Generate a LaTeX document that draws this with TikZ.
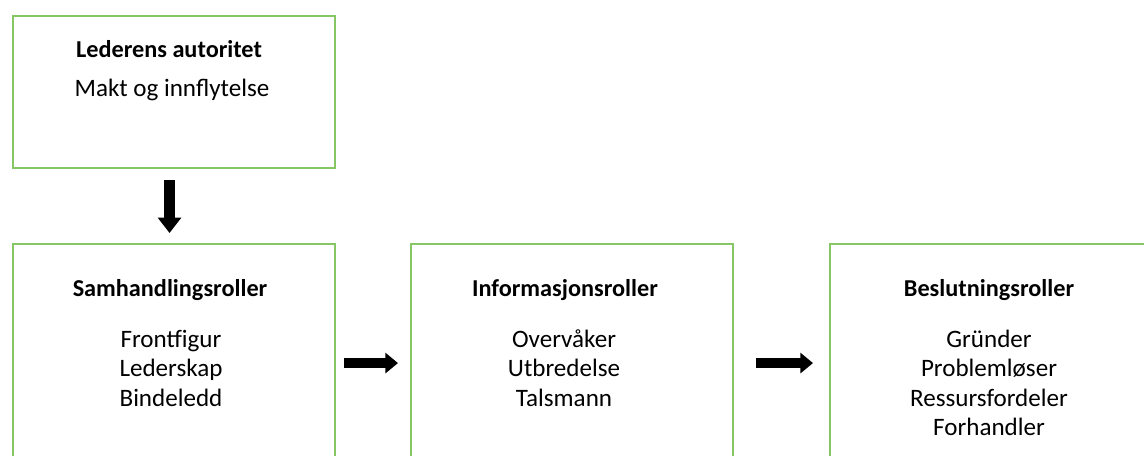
\documentclass[tikz,border=0pt]{standalone}
\usepackage{fontspec}
\setmainfont{Carlito}
\usetikzlibrary{arrows.meta,positioning}
\definecolor{boxgreen}{RGB}{134,198,100}

\begin{document}
\begin{tikzpicture}[x=0.75pt,y=-0.75pt,
  rolebox/.style={draw=boxgreen,line width=1.6pt,anchor=north west,minimum width=241.5pt,inner sep=0pt},
  roletitle/.style={font=\fontsize{18.2}{21.75}\selectfont\bfseries,anchor=base},
  roleitem/.style={font=\fontsize{18.8}{21.75}\selectfont,anchor=base},
  bigarrow/.style={line width=7.8pt,-{Triangle[length=9.5pt,width=15pt]}}]

\useasboundingbox (0,0) rectangle (1144,456);
\clip (0,0) rectangle (1144,456);

% ===== top box =====
\node[rolebox,minimum height=114pt] (autoritet) at (12,15) {};
\node[roletitle] (autoritetT) at (169,58) {Lederens autoritet};
\node[roleitem] (autoritetS) at (172,97) {Makt og innflytelse};

% ===== role boxes =====
\node[rolebox,minimum height=178.5pt] (samh) at (12,243) {};
\node[rolebox,minimum height=178.5pt] (info) at (410,243) {};
\node[rolebox,minimum height=178.5pt] (beslut) at (829,243) {};

\node[roletitle] (samhT) at (170,296) {Samhandlingsroller};
\foreach \t [count=\i] in {Frontfigur,Lederskap,Bindeledd}
  \node[roleitem] (samh\i) at (171,{347+29.5*(\i-1)}) {\t};

\node[roletitle] (infoT) at (565,296) {Informasjonsroller};
\foreach \t [count=\i] in {Overvåker,Utbredelse,Talsmann}
  \node[roleitem] (info\i) at (564,{347+29.5*(\i-1)}) {\t};

\node[roletitle] (beslutT) at (989,296) {Beslutningsroller};
\foreach \t [count=\i] in {Gründer,Problemløser,Ressursfordeler,Forhandler}
  \node[roleitem] (beslut\i) at (989,{347+29.5*(\i-1)}) {\t};

% ===== arrows =====
\draw[bigarrow,line width=8.7pt,-{Triangle[length=11.5pt,width=17pt]},shorten <=8pt,shorten >=7.5pt] ([xshift=-3.4pt]autoritet.south) -- ([xshift=-3.4pt]samh.north);
\draw[bigarrow,shorten <=6pt,shorten >=9pt] (samh.east) -- (info.west);
\draw[bigarrow,shorten <=16.5pt,shorten >=12pt] (info.east) -- (beslut.west);
\end{tikzpicture}
\end{document}
